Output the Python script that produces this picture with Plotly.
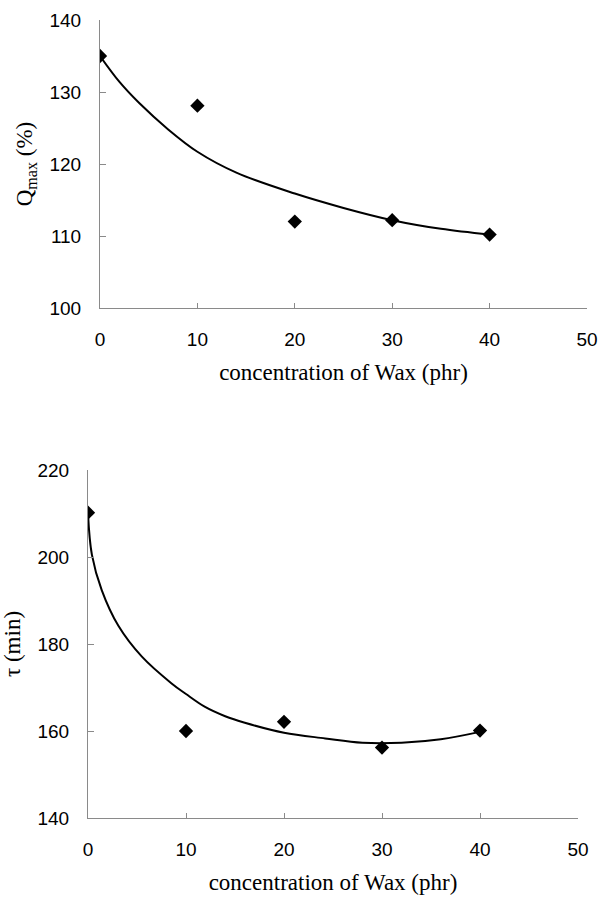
import plotly.graph_objects as go

# Top panel: Q_max vs wax concentration
wax = [0, 10, 20, 30, 40]
qmax = [135.0, 128.1, 112.0, 112.2, 110.2]
# fitted trend curve
q_fit_x = [0, 2, 4, 7, 10, 14, 20, 25, 30, 35, 40]
q_fit_y = [135.0, 131.4, 128.5, 124.8, 121.7, 118.8, 115.9, 113.9, 112.2, 111.0, 110.2]

# Bottom panel: tau vs wax concentration
tau = [210.2, 160.0, 162.1, 156.2, 160.1]
t_fit_x = [0, 0.4, 1.4, 3.1, 5.5, 8.5, 10, 11.9, 14, 16, 20, 24.2, 28, 32, 36, 40]
t_fit_y = [210.0, 200.5, 192.4, 184.2, 177.1, 171.0, 168.5, 165.6, 163.4, 161.9, 159.6, 158.3, 157.3, 157.3, 158.1, 159.8]

x_ticks = [0, 10, 20, 30, 40, 50]
q_ticks = [100, 110, 120, 130, 140]
t_ticks = [140, 160, 180, 200, 220]

W, H = 599, 897
fig = go.Figure()

line_style = dict(color="black", width=2)
mk = dict(symbol="diamond", size=11, color="black")

fig.add_trace(go.Scatter(x=q_fit_x, y=q_fit_y, mode="lines", line=dict(shape="spline", **line_style),
                         xaxis="x", yaxis="y", showlegend=False, hoverinfo="skip"))
fig.add_trace(go.Scatter(x=wax, y=qmax, mode="markers", marker=mk, xaxis="x", yaxis="y", showlegend=False))
fig.add_trace(go.Scatter(x=t_fit_x, y=t_fit_y, mode="lines", line=dict(shape="spline", **line_style),
                         xaxis="x2", yaxis="y2", showlegend=False, hoverinfo="skip"))
fig.add_trace(go.Scatter(x=wax, y=tau, mode="markers", marker=mk, xaxis="x2", yaxis="y2", showlegend=False))

tick_font = dict(family="Liberation Sans, Arial", size=19, color="black")
title_font = dict(family="Liberation Serif, Times New Roman", size=23, color="black")
axcol = "#8a8a8a"

def xax(domain, anchor):
    return dict(domain=domain, anchor=anchor, range=[0, 50], tickvals=x_ticks,
                showgrid=False, zeroline=False, showline=True, linecolor=axcol, linewidth=1,
                ticks="inside", ticklen=5, tickcolor=axcol, tickfont=tick_font,
                ticklabelstandoff=14,
                title=dict(text="concentration of Wax (phr)", font=title_font, standoff=15),
                automargin=False, fixedrange=True)

def yax(domain, anchor, rng, tv, title):
    return dict(domain=domain, anchor=anchor, range=rng, tickvals=tv,
                showgrid=False, zeroline=False, showline=True, linecolor=axcol, linewidth=1,
                ticks="inside", ticklen=6, tickcolor=axcol, tickfont=tick_font,
                ticklabelstandoff=14,
                title=dict(text=title, font=title_font, standoff=10),
                automargin=False, fixedrange=True)

fig.update_layout(
    width=W, height=H,
    margin=dict(l=0, r=0, t=0, b=0),
    paper_bgcolor="white", plot_bgcolor="white",
    xaxis=xax([100 / W, 587 / W], "y"),
    yaxis=yax([1 - 308 / H, 1 - 20 / H], "x", [100, 140], q_ticks, "Q<sub>max</sub> (%)"),
    xaxis2=xax([88 / W, 578 / W], "y2"),
    yaxis2=yax([1 - 818 / H, 1 - 470 / H], "x2", [140, 220], t_ticks, "τ (min)"),
)

fig.write_html("out.html", config={"displayModeBar": False},
               post_script="document.body.style.margin='0';document.body.style.overflow='hidden';")
